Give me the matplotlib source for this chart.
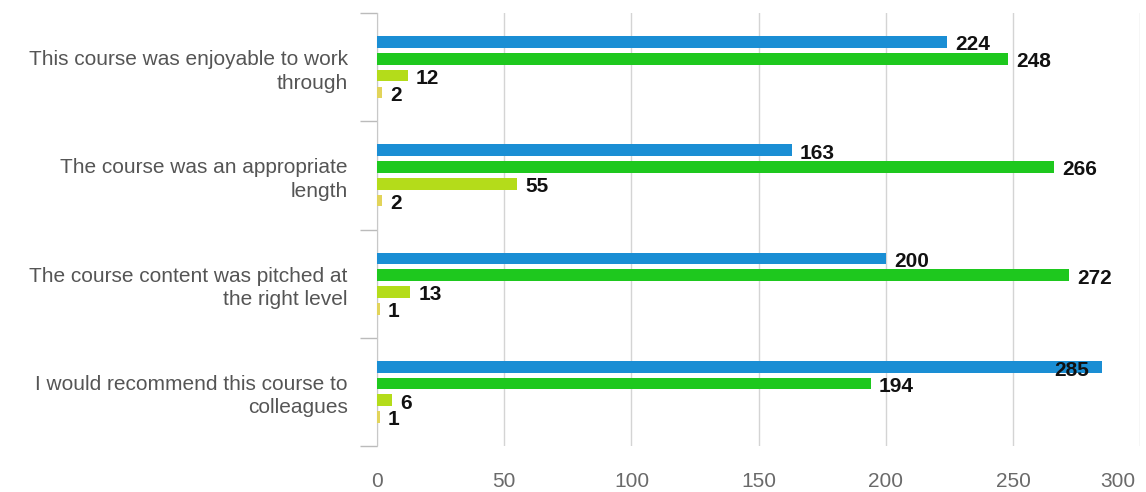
import matplotlib
matplotlib.use('Agg')
import matplotlib.pyplot as plt
import matplotlib.transforms as mtransforms
import numpy as np

plt.rcParams['font.family'] = ['Liberation Sans', 'DejaVu Sans']

# data, top category first
questions = ['This course was enjoyable to work\nthrough',
             'The course was an appropriate\nlength',
             'The course content was pitched at\nthe right level',
             'I would recommend this course to\ncolleagues']
series_a = [224, 163, 200, 285]
series_b = [248, 266, 272, 194]
series_c = [12, 55, 13, 6]
series_d = [2, 2, 1, 1]
xticks = [0, 50, 100, 150, 200, 250, 300]

colours = ['#1a8ed4', '#1ec81e', '#b4dc1a', '#e2d45a']
all_series = [series_a, series_b, series_c, series_d]

fig = plt.figure(figsize=(11.46, 4.92), dpi=100)
ax = fig.add_axes([0.329, 0.0935, 0.666, 0.88])

n = len(questions)
centres = np.arange(n) + 0.5
slot = 0.155
barH = 0.107
xmax = 300
labelSize = 15

for k, (vals, col) in enumerate(zip(all_series, colours)):
    ys = centres + (k - 1.5) * slot
    ax.barh(ys, vals, height=barH, color=col, zorder=3)
    for y, v in zip(ys, vals):
        if v > 280:
            # no room on the right, the label goes inside the bar end
            ax.annotate(str(v), (v, y), xytext=(-9, -2.5), textcoords='offset points',
                        ha='right', va='center', fontsize=labelSize, fontweight='bold',
                        color='#111111', zorder=4)
        else:
            ax.annotate(str(v), (v, y), xytext=(6, -2), textcoords='offset points',
                        ha='left', va='center', fontsize=labelSize, fontweight='bold',
                        color='#111111', zorder=4)

ax.set_xlim(0, xmax)
ax.set_ylim(n, 0)
ax.set_xticks(xticks)
ax.set_xticklabels([str(t) for t in xticks], fontsize=15, color='#6a6a6a')
ax.tick_params(axis='x', length=0, pad=19)
# last tick label pulled in so it stays on the canvas
last = ax.get_xticklabels()[-1]
last.set_transform(last.get_transform() +
                   mtransforms.ScaledTranslation(-16 / 72, 0, fig.dpi_scale_trans))

ax.set_yticks(centres)
ax.set_yticklabels(questions, fontsize=15, color='#555555', linespacing=1.3)
ax.tick_params(axis='y', which='major', length=0, pad=21)
ax.set_yticks(np.arange(n + 1), minor=True)
ax.tick_params(axis='y', which='minor', length=12, color='#bbbbbb', width=1)

ax.grid(axis='x', color='#d4d4d4', linewidth=1, zorder=0)
for side in ['top', 'right', 'bottom']:
    ax.spines[side].set_visible(False)
ax.spines['left'].set_color('#c8c8c8')

plt.savefig('out.png', dpi=100)
